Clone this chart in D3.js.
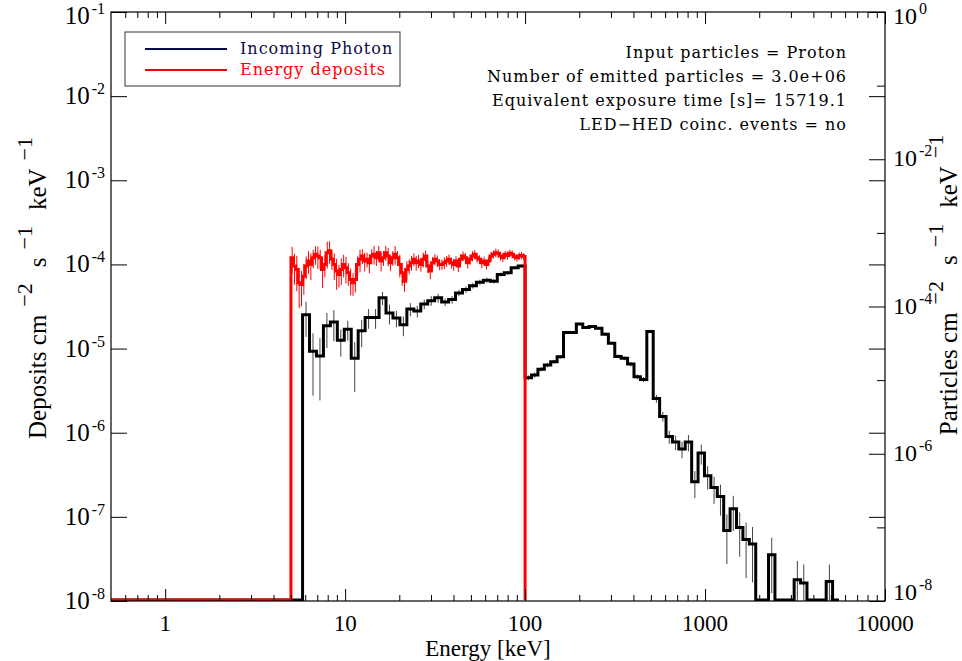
<!DOCTYPE html>
<html>
<head>
<meta charset="utf-8">
<script src="https://cdn.jsdelivr.net/npm/d3@7"></script>
<style>
  body { margin: 0; background: #fff; }
</style>
</head>
<body>
<div id="chart"></div>
<script>
// axis ranges
const energyRange = [0.5, 10000];
const depositRange = [1e-8, 1e-1];
const particleRange = [1e-8, 1];
const energyTicks = [1, 10, 100, 1000, 10000];
const depositTicks = [-1, -2, -3, -4, -5, -6, -7, -8];
const particleTicks = [0, -2, -4, -6, -8];
const particleMinorTicks = [-1, -3, -5, -7];

// energy deposits (red), log bins 5 -> 100 keV
const depositFrom = 5, depositTo = 100;
const depositValues = [
  1.20e-4, 9.57e-5, 8.72e-5, 6.04e-5, 5.77e-5, 7.26e-5, 9.57e-5, 1.10e-4, 1.00e-4, 1.20e-4,
  1.32e-4, 1.26e-4, 1.20e-4, 8.72e-5, 1.00e-4, 1.38e-4, 1.45e-4, 1.15e-4, 1.00e-4, 8.33e-5,
  7.60e-5, 8.72e-5, 1.00e-4, 9.14e-5, 7.96e-5, 6.62e-5, 6.04e-5, 6.62e-5, 1.00e-4, 1.15e-4,
  1.26e-4, 1.10e-4, 1.15e-4, 1.05e-4, 1.26e-4, 1.32e-4, 1.20e-4, 1.38e-4, 1.10e-4, 1.20e-4,
  1.38e-4, 1.26e-4, 1.05e-4, 1.20e-4, 1.32e-4, 1.20e-4, 1.00e-4, 7.96e-5, 6.32e-5, 8.72e-5,
  9.57e-5, 1.05e-4, 1.15e-4, 1.05e-4, 1.10e-4, 1.00e-4, 1.15e-4, 1.26e-4, 9.57e-5, 8.33e-5,
  1.05e-4, 1.15e-4, 1.10e-4, 1.00e-4, 1.00e-4, 1.05e-4, 1.10e-4, 1.15e-4, 1.05e-4, 1.00e-4,
  1.10e-4, 9.57e-5, 1.15e-4, 1.26e-4, 1.20e-4, 1.05e-4, 1.15e-4, 1.26e-4, 1.32e-4, 1.20e-4,
  1.15e-4, 1.05e-4, 1.10e-4, 1.00e-4, 1.10e-4, 1.26e-4, 1.32e-4, 1.38e-4, 1.36e-4, 1.26e-4,
  1.20e-4, 1.32e-4, 1.28e-4, 1.36e-4, 1.32e-4, 1.24e-4, 1.20e-4, 1.26e-4, 1.28e-4, 1.24e-4
];
// relative 1-sigma errors
const depositErrors = [
  0.35, 0.40, 0.45, 0.50, 0.45, 0.40, 0.30, 0.30, 0.35, 0.25,
  0.25, 0.30, 0.25, 0.40, 0.30, 0.35, 0.30, 0.25, 0.35, 0.40,
  0.30, 0.35, 0.30, 0.35, 0.30, 0.35, 0.30, 0.30, 0.25, 0.30,
  0.20, 0.25, 0.20, 0.25, 0.20, 0.25, 0.20, 0.20, 0.25, 0.20,
  0.20, 0.25, 0.20, 0.20, 0.25, 0.20, 0.30, 0.30, 0.25, 0.25,
  0.20, 0.20, 0.18, 0.20, 0.18, 0.18, 0.20, 0.16, 0.18, 0.20,
  0.16, 0.15, 0.16, 0.15, 0.14, 0.16, 0.15, 0.14, 0.15, 0.16,
  0.14, 0.15, 0.14, 0.13, 0.14, 0.15, 0.13, 0.14, 0.12, 0.13,
  0.12, 0.14, 0.12, 0.13, 0.12, 0.12, 0.11, 0.12, 0.11, 0.12,
  0.11, 0.10, 0.11, 0.10, 0.11, 0.10, 0.10, 0.10, 0.10, 0.10
];

// incoming photon (black), log bins 5.8 -> 100 keV
const photonLowFrom = 5.8, photonLowTo = 100;
const photonLowValues = [
  7.73e-5, 2.46e-5, 2.12e-5, 5.46e-5, 6.14e-5, 3.48e-5, 4.92e-5, 1.98e-5, 4.67e-5, 7.11e-5,
  7.11e-5, 1.31e-4, 8.15e-5, 6.97e-5, 5.64e-5, 9.25e-5, 8.67e-5, 1.08e-4, 1.20e-4, 1.31e-4,
  1.15e-4, 1.24e-4, 1.53e-4, 1.70e-4, 1.92e-4, 2.14e-4, 2.28e-4, 2.21e-4, 2.72e-4, 2.87e-4,
  3.36e-4, 3.55e-4
];
const photonLowErrors = [
  0.50, 0.75, 0.75, 0.50, 0.45, 0.40, 0.30, 0.65, 0.40, 0.30,
  0.30, 0.20, 0.30, 0.25, 0.30, 0.20, 0.18, 0.15, 0.15, 0.14,
  0.12, 0.12, 0.10, 0.10, 0.09, 0.08, 0.08, 0.07, 0.06, 0.06,
  0.05, 0.05
];
// incoming photon above 100 keV, bins of fixed log width
const photonHighFrom = 100, photonHighDex = 0.0356;
const photonHighValues = [
  1.08e-5, 1.17e-5, 1.41e-5, 1.60e-5, 1.78e-5, 2.08e-5, 4.44e-5, 4.44e-5, 5.77e-5, 5.20e-5,
  5.36e-5, 5.08e-5, 4.21e-5, 3.17e-5, 2.10e-5, 1.98e-5, 1.65e-5, 1.11e-5, 1.02e-5, 4.58e-5,
  5.61e-6, 3.21e-6, 1.71e-6, 1.44e-6, 1.16e-6, 1.44e-6, 4.15e-7, 1.02e-6, 5.01e-7, 3.48e-7,
  2.62e-7, 9.06e-8, 1.79e-7, 1.00e-7, 6.82e-8, 5.96e-8, 0, 0, 4.26e-8, 0,
  0, 0, 1.94e-8, 1.75e-8, 0, 0, 0, 1.84e-8, 0
];
const photonHighErrors = [
  0.08, 0.08, 0.07, 0.07, 0.06, 0.06, 0.05, 0.05, 0.04, 0.04,
  0.04, 0.04, 0.05, 0.05, 0.06, 0.06, 0.07, 0.08, 0.08, 0.05,
  0.12, 0.15, 0.20, 0.22, 0.25, 0.25, 0.40, 0.30, 0.35, 0.40,
  0.45, 0.65, 0.50, 0.60, 0.70, 0.70, 0, 0, 0.70, 0,
  0, 0, 0.80, 0.80, 0, 0, 0, 0.70, 0
];

const legendItems = [
  {label: "Incoming Photon", color: "#0b0b45"},
  {label: "Energy deposits", color: "#ff0000"}
];
const infoLines = [
  "Input particles = Proton",
  "Number of emitted particles = 3.0e+06",
  "Equivalent exposure time [s]= 15719.1",
  "LED\u2212HED coinc. events = no"
];

// ---- layout ----
const width = 962, height = 661;
const plot = {left: 111, right: 885, top: 12, bottom: 601};
const serif = "'Liberation Serif', 'Times New Roman', serif";
const textFont = "'DejaVu Serif', serif";

const svg = d3.select("#chart").append("svg")
  .attr("width", width).attr("height", height);

const x = d3.scaleLog().domain(energyRange).range([plot.left, plot.right]);
const yL = d3.scaleLog().domain(depositRange).range([plot.bottom, plot.top]).clamp(true);
const yR = d3.scaleLog().domain(particleRange).range([plot.bottom, plot.top]).clamp(true);

// log spaced bin edges
function logEdges(from, to, n) {
  const a = Math.log10(from), b = Math.log10(to);
  return d3.range(n + 1).map(i => Math.pow(10, a + (b - a) * i / n));
}

// build histogram bins
const depositEdges = logEdges(depositFrom, depositTo, depositValues.length);
const depositBins = depositValues.map((v, i) => ({lo: depositEdges[i], hi: depositEdges[i + 1], v: v, e: depositErrors[i]}));

const lowEdges = logEdges(photonLowFrom, photonLowTo, photonLowValues.length);
const photonBins = photonLowValues.map((v, i) => ({lo: lowEdges[i], hi: lowEdges[i + 1], v: v, e: photonLowErrors[i]}));
photonHighValues.forEach((v, i) => {
  photonBins.push({
    lo: photonHighFrom * Math.pow(10, i * photonHighDex),
    hi: photonHighFrom * Math.pow(10, (i + 1) * photonHighDex),
    v: v, e: photonHighErrors[i]
  });
});

const yOf = (scale, v) => v > 0 ? scale(v) : plot.bottom;

// clip
svg.append("clipPath").attr("id", "clip")
  .append("rect")
  .attr("x", plot.left).attr("y", plot.top)
  .attr("width", plot.right - plot.left).attr("height", plot.bottom - plot.top);

const dataG = svg.append("g").attr("clip-path", "url(#clip)");

function stepPoints(bins, closeAtEnd) {
  const pts = [[energyRange[0], 0], [bins[0].lo, 0]];
  bins.forEach(b => { pts.push([b.lo, b.v]); pts.push([b.hi, b.v]); });
  if (closeAtEnd) pts.push([bins[bins.length - 1].hi, 0]);
  return pts;
}

function drawSeries(bins, scale, color, errColor, closeAtEnd) {
  // error bars
  dataG.append("g").selectAll("line")
    .data(bins.filter(b => b.v > 0 && b.e > 0))
    .enter().append("line")
    .attr("x1", b => x(Math.sqrt(b.lo * b.hi)))
    .attr("x2", b => x(Math.sqrt(b.lo * b.hi)))
    .attr("y1", b => yOf(scale, b.v * (1 + b.e)))
    .attr("y2", b => yOf(scale, b.v * (1 - b.e)))
    .attr("stroke", errColor)
    .attr("stroke-width", 1);

  const line = d3.line()
    .x(d => x(d[0]))
    .y(d => Math.min(yOf(scale, d[1]), plot.bottom - 1));

  dataG.append("path")
    .datum(stepPoints(bins, closeAtEnd))
    .attr("d", line)
    .attr("fill", "none")
    .attr("stroke", color)
    .attr("stroke-width", 3)
    .attr("stroke-linejoin", "miter");
}

drawSeries(photonBins, yR, "#000", "#444", false);
drawSeries(depositBins, yL, "#ff0000", "#ff0000", true);

// ---- axes ----
const axisG = svg.append("g");
const minorX = [];
for (let d = -1; d <= 3; d++) {
  for (let m = 2; m <= 9; m++) {
    const v = m * Math.pow(10, d);
    if (v > energyRange[0] && v < energyRange[1]) minorX.push(v);
  }
}
const pow10 = p => Math.pow(10, p);

axisG.append("g").attr("transform", `translate(0,${plot.bottom})`)
  .call(d3.axisBottom(x).tickValues(energyTicks).tickSize(-12).tickSizeOuter(0).tickFormat(""));
axisG.append("g").attr("transform", `translate(0,${plot.bottom})`)
  .call(d3.axisBottom(x).tickValues(minorX).tickSize(-6).tickSizeOuter(0).tickFormat(""));
axisG.append("g").attr("transform", `translate(0,${plot.top})`)
  .call(d3.axisTop(x).tickValues(energyTicks).tickSize(-12).tickSizeOuter(0).tickFormat(""));
axisG.append("g").attr("transform", `translate(0,${plot.top})`)
  .call(d3.axisTop(x).tickValues(minorX).tickSize(-6).tickSizeOuter(0).tickFormat(""));

// deposit decades: left side, mirrored on the right
axisG.append("g").attr("transform", `translate(${plot.left},0)`)
  .call(d3.axisLeft(yL).tickValues(depositTicks.map(pow10)).tickSize(-16).tickSizeOuter(0).tickFormat(""));
axisG.append("g").attr("transform", `translate(${plot.right},0)`)
  .call(d3.axisRight(yL).tickValues(depositTicks.map(pow10)).tickSize(-16).tickSizeOuter(0).tickFormat(""));
// particle axis on the right
axisG.append("g").attr("transform", `translate(${plot.right},0)`)
  .call(d3.axisRight(yR).tickValues(particleTicks.map(pow10)).tickSize(-16).tickSizeOuter(0).tickFormat(""));
axisG.append("g").attr("transform", `translate(${plot.right},0)`)
  .call(d3.axisRight(yR).tickValues(particleMinorTicks.map(pow10)).tickSize(-8).tickSizeOuter(0).tickFormat(""));

axisG.selectAll(".domain").remove();
axisG.selectAll("line").attr("stroke", "#000").attr("stroke-width", 1);

svg.append("rect")
  .attr("x", plot.left).attr("y", plot.top)
  .attr("width", plot.right - plot.left).attr("height", plot.bottom - plot.top)
  .attr("fill", "none").attr("stroke", "#000").attr("stroke-width", 1.2);

// tick labels
svg.append("g").selectAll("text")
  .data(energyTicks).enter().append("text")
  .attr("x", d => x(d)).attr("y", plot.bottom + 30)
  .attr("text-anchor", "middle")
  .style("font-family", serif).style("font-size", "23px")
  .text(d => d);

function powLabel(sel, p) {
  sel.append("tspan").text("10");
  sel.append("tspan").attr("dx", 2).attr("dy", -10).style("font-size", "16px")
    .text(p === 0 ? "0" : "-" + Math.abs(p));
}

svg.append("g").selectAll("text")
  .data(depositTicks).enter().append("text")
  .attr("x", plot.left - 6)
  .attr("y", p => Math.max(Math.min(yL(pow10(p)) + 8, 609), 24))
  .attr("text-anchor", "end")
  .style("font-family", serif).style("font-size", "25px")
  .each(function(p) { powLabel(d3.select(this), p); });

svg.append("g").selectAll("text")
  .data(particleTicks).enter().append("text")
  .attr("x", plot.right + 8)
  .attr("y", p => Math.max(Math.min(yR(pow10(p)) + 7, 600), 24))
  .attr("text-anchor", "start")
  .style("font-family", serif).style("font-size", "24px")
  .each(function(p) { powLabel(d3.select(this), p); });

// axis titles
svg.append("text")
  .attr("x", 488).attr("y", 656)
  .attr("text-anchor", "middle")
  .style("font-family", serif).style("font-size", "23px")
  .text("Energy [keV]");

function unitTitle(sel, name) {
  sel.append("tspan").text(name + " cm");
  sel.append("tspan").attr("dx", 8).attr("dy", -14).style("font-size", "22px").text("\u2212" + "2");
  sel.append("tspan").attr("dx", 16).attr("dy", 14).text("s");
  sel.append("tspan").attr("dx", 8).attr("dy", -14).style("font-size", "22px").text("\u2212" + "1");
  sel.append("tspan").attr("dx", 16).attr("dy", 14).text("keV");
  sel.append("tspan").attr("dx", 8).attr("dy", -14).style("font-size", "22px").text("\u2212" + "1");
}

svg.append("text")
  .attr("transform", "translate(46,288) rotate(-90)")
  .attr("text-anchor", "middle")
  .style("font-family", serif).style("font-size", "25px")
  .call(unitTitle, "Deposits");

svg.append("text")
  .attr("transform", "translate(957,285) rotate(-90)")
  .attr("text-anchor", "middle")
  .style("font-family", serif).style("font-size", "25px")
  .call(unitTitle, "Particles");

// legend
const legend = svg.append("g");
legend.append("rect")
  .attr("x", 125).attr("y", 32).attr("width", 275).attr("height", 54)
  .attr("fill", "#fff").attr("stroke", "#333").attr("stroke-width", 1);
legendItems.forEach((d, i) => {
  const yy = 49 + i * 21;
  legend.append("line")
    .attr("x1", 145).attr("x2", 227).attr("y1", yy).attr("y2", yy)
    .attr("stroke", d.color).attr("stroke-width", 2);
  legend.append("text")
    .attr("x", 240).attr("y", yy + 5)
    .style("font-family", textFont).style("font-size", "16px")
    .style("letter-spacing", "1px")
    .attr("fill", d.color)
    .text(d.label);
});

// info text
svg.append("g").selectAll("text")
  .data(infoLines).enter().append("text")
  .attr("x", 847).attr("y", (d, i) => 58 + i * 24)
  .attr("text-anchor", "end")
  .style("font-family", textFont).style("font-size", "16px")
  .style("letter-spacing", "1px")
  .text(d => d);
</script>
</body>
</html>
